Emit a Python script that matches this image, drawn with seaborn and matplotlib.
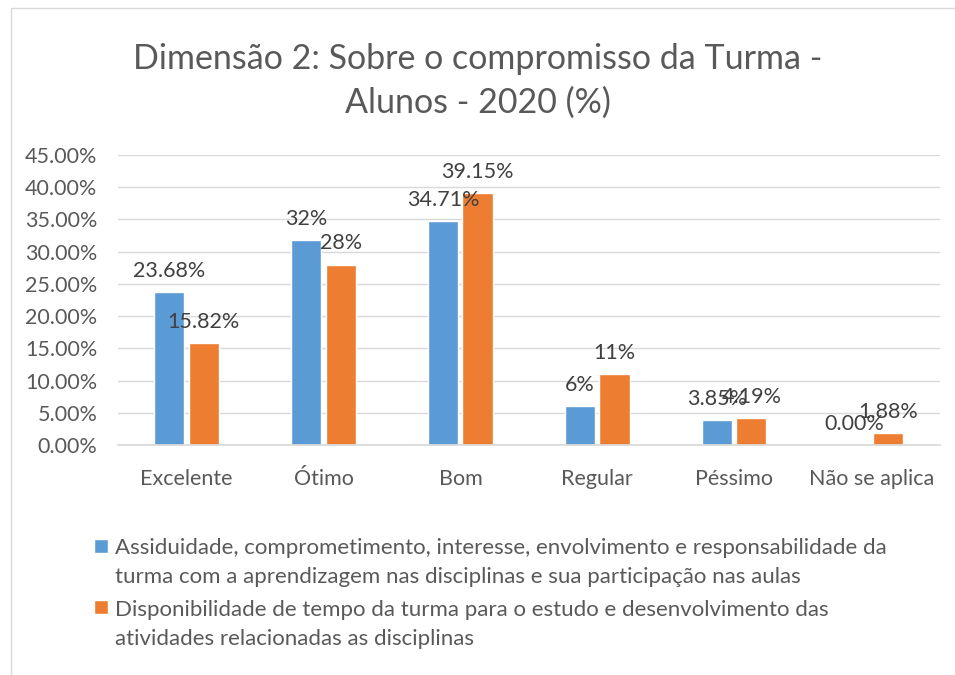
import pandas as pd
import seaborn as sns
import matplotlib.pyplot as plt
from matplotlib.patches import Rectangle, Patch
from matplotlib.legend_handler import HandlerPatch
from matplotlib.ticker import FuncFormatter

categorias = ['Excelente', 'Ótimo', 'Bom', 'Regular', 'Péssimo', 'Não se aplica']
assiduidade = [23.68, 31.8, 34.71, 6.0, 3.85, 0.0]
disponibilidade = [15.82, 28.0, 39.15, 11.0, 4.19, 1.88]
rot_assiduidade = ['23.68%', '32%', '34.71%', '6%', '3.85%', '0.00%']
rot_disponibilidade = ['15.82%', '28%', '39.15%', '11%', '4.19%', '1.88%']
serie1 = ('Assiduidade, comprometimento, interesse, envolvimento e responsabilidade da\n'
          'turma com a aprendizagem nas disciplinas e sua participação nas aulas')
serie2 = ('Disponibilidade de tempo da turma para o estudo e desenvolvimento das\n'
          'atividades relacionadas as disciplinas')
cores = ['#5B9BD5', '#ED7D31']

df = pd.DataFrame({'cat': categorias * 2,
                   'val': assiduidade + disponibilidade,
                   'serie': [serie1] * 6 + [serie2] * 6})

sns.set_theme(style='white')
plt.rcParams['font.family'] = ['Lato', 'DejaVu Sans']
plt.rcParams['text.color'] = '#404040'

fig = plt.figure(figsize=(9.55, 6.75), dpi=100)
ax = fig.add_axes([0.1236, 0.3407, 0.8604, 0.4297])

sns.barplot(data=df, x='cat', y='val', hue='serie', palette=cores,
            width=0.5, gap=0.12, ax=ax, legend=False, saturation=1)

ax.set_ylim(0, 45)
ax.set_yticks(range(0, 46, 5))
ax.yaxis.set_major_formatter(FuncFormatter(lambda v, p: f'{v:.2f}%'))
ax.grid(axis='y', color='#D9D9D9', linewidth=1)
ax.set_axisbelow(True)
for s in ['top', 'right', 'left']:
    ax.spines[s].set_visible(False)
ax.spines['bottom'].set_color('#D9D9D9')
ax.tick_params(axis='both', labelsize=15.5, colors='#595959', length=0)
ax.tick_params(axis='y', pad=15)
ax.tick_params(axis='x', pad=17)
ax.set_xlabel('')
ax.set_ylabel('')

for cont, rot in zip(ax.containers, [rot_assiduidade, rot_disponibilidade]):
    ax.bar_label(cont, labels=rot, padding=8, fontsize=15.5, color='#404040')

fig.text(0.5, 0.88, 'Dimensão 2: Sobre o compromisso da Turma -\nAlunos - 2020 (%)',
         ha='center', va='center', fontsize=24.5, color='#595959', linespacing=1.45)


# quadrado da legenda alinhado com a primeira linha do texto
def quadrado(legend, orig_handle, xdescent, ydescent, width, height, fontsize):
    s = 14 * 72 / 100
    return Rectangle((-xdescent, -ydescent + height - s + 5.5), s, s)


handles = [Patch(facecolor=c) for c in cores]
leg = fig.legend(handles, [serie1, serie2], loc='upper left',
                 bbox_to_anchor=(0.078, 0.233), frameon=False, fontsize=16,
                 handlelength=0.62, handleheight=2.0, handletextpad=0.3,
                 labelspacing=0.55, labelcolor='#595959',
                 handler_map={Patch: HandlerPatch(patch_func=quadrado)})
for t in leg.get_texts():
    t.set_linespacing(1.6)

fig.patches.append(Rectangle((0.011, -0.01), 1.0, 0.998, transform=fig.transFigure,
                             fill=False, edgecolor='#D9D9D9', linewidth=1))

fig.savefig('out.png', dpi=100)
